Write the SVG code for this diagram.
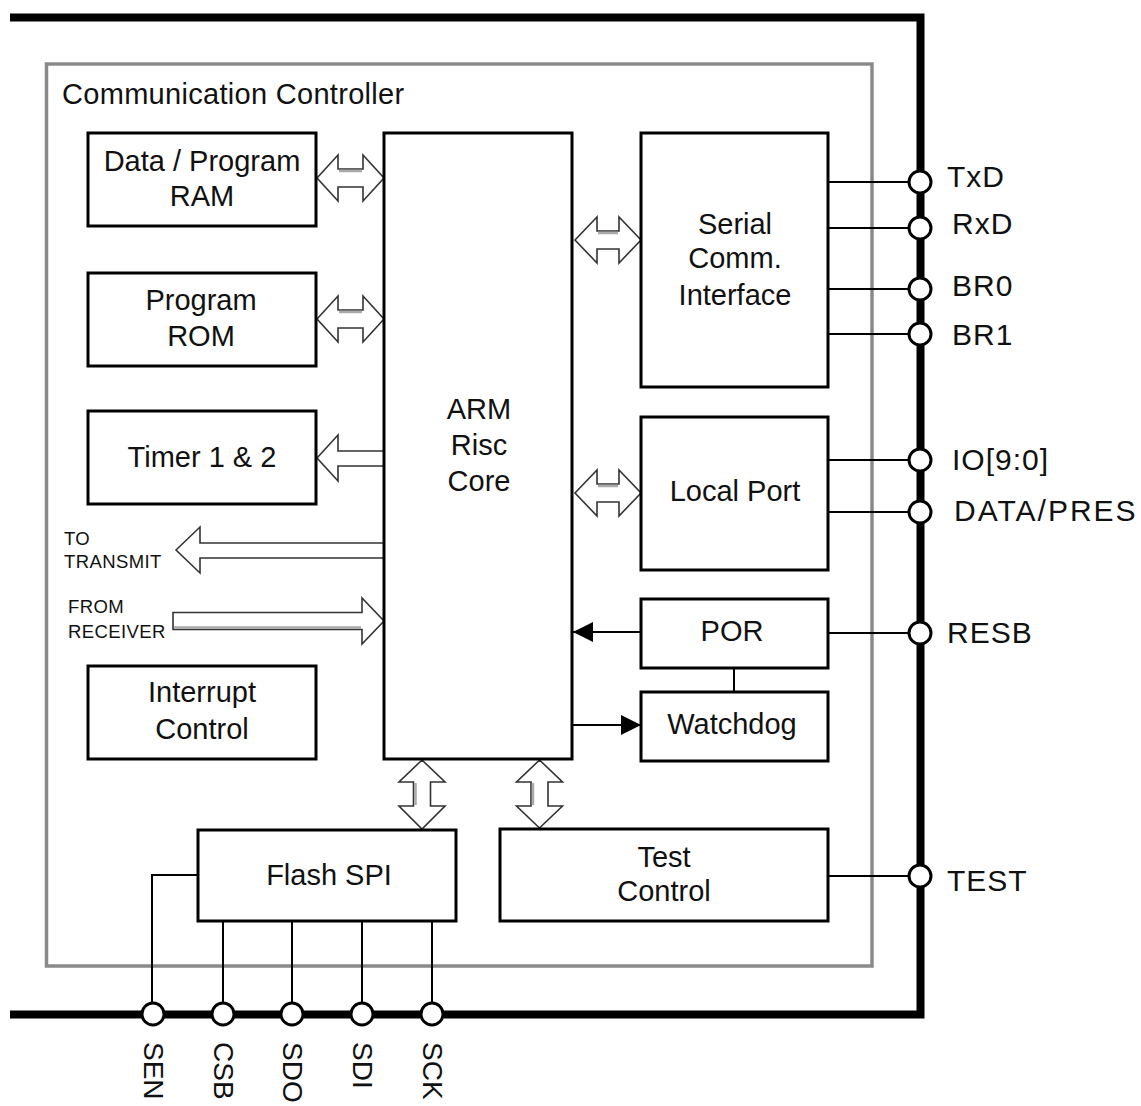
<svg xmlns="http://www.w3.org/2000/svg" width="1141" height="1106" viewBox="0 0 1141 1106">
<style>
.box{fill:#fff;stroke:#000;stroke-width:3}
.t{font-family:"Liberation Sans",Arial,sans-serif;font-size:29px;fill:#111;text-anchor:middle}
.pin{font-family:"Liberation Sans",Arial,sans-serif;font-size:30px;fill:#111;letter-spacing:1px}
.vpin{font-family:"Liberation Sans",Arial,sans-serif;font-size:28px;fill:#111}
.sm{font-family:"Liberation Sans",Arial,sans-serif;font-size:18.5px;fill:#111;letter-spacing:0.4px}
.w{fill:none;stroke:#000;stroke-width:2}
.ha{fill:#fff;stroke:#333;stroke-width:1.6;stroke-linejoin:miter}
.sh{stroke:#aaa;stroke-width:2.5;fill:none}
.pc{fill:#fff;stroke:#000;stroke-width:3}
</style>
<defs>
<marker id="ah" markerUnits="userSpaceOnUse" viewBox="0 0 20 20" refX="20" refY="10" markerWidth="20" markerHeight="20" orient="auto">
<path d="M0,0 L20,10 L0,20 z" fill="#000"/>
</marker>
</defs>
<rect width="1141" height="1106" fill="#fff"/>
<g id="frame">
<path d="M10,17.5 H920.5 V1014.5 H10" fill="none" stroke="#000" stroke-width="8"/>
</g>
<g id="controller">
<rect x="46.5" y="64" width="825.5" height="902" fill="none" stroke="#8a8a8a" stroke-width="3.5"/>
<text x="62" y="104" class="t" style="text-anchor:start;letter-spacing:0.3px">Communication Controller</text>
</g>
<g id="connectors">
<polygon class="ha" points="317,178 338,155 338,169 363,169 363,155 384,178 363,201 363,187 338,187 338,201"/>
<line class="sh" x1="339" y1="171" x2="362" y2="171"/>
<polygon class="ha" points="317,319 338,296 338,310 363,310 363,296 384,319 363,342 363,328 338,328 338,342"/>
<line class="sh" x1="339" y1="312" x2="362" y2="312"/>
<polygon class="ha" points="575,240 597,217 597,231 619,231 619,217 641,240 619,263 619,249 597,249 597,263"/>
<line class="sh" x1="598" y1="233" x2="618" y2="233"/>
<polygon class="ha" points="575,493 597,470 597,484 619,484 619,470 641,493 619,516 619,502 597,502 597,516"/>
<line class="sh" x1="598" y1="486" x2="618" y2="486"/>
<polygon class="ha" points="317,458 338,435 338,451 384,451 384,466 338,466 338,481"/>
<polygon class="ha" points="176,550 200,527 200,543 384,543 384,558 200,558 200,573"/>
<polygon class="ha" points="173,612.5 362,612.5 362,598 384,621 362,644 362,629.5 173,629.5"/>
<line class="sh" x1="174" y1="627.5" x2="361" y2="627.5"/>
<polygon class="ha" points="422,760 445,782 430.5,782 430.5,806 445,806 422,829 399,806 413.5,806 413.5,782 399,782"/>
<line class="sh" x1="415.5" y1="783" x2="415.5" y2="805"/>
<polygon class="ha" points="539.5,760 562.5,782 548,782 548,806 562.5,806 539.5,828 516.5,806 531,806 531,782 516.5,782"/>
<line class="sh" x1="533" y1="783" x2="533" y2="805"/>
<line x1="641" y1="632" x2="573" y2="632" stroke="#000" stroke-width="2" marker-end="url(#ah)"/>
<line x1="572" y1="725" x2="641" y2="725" stroke="#000" stroke-width="2" marker-end="url(#ah)"/>
<line class="w" x1="734" y1="668" x2="734" y2="692"/>
<line class="w" x1="828" y1="182" x2="920" y2="182"/>
<line class="w" x1="828" y1="228" x2="920" y2="228"/>
<line class="w" x1="828" y1="289" x2="920" y2="289"/>
<line class="w" x1="828" y1="334" x2="920" y2="334"/>
<line class="w" x1="828" y1="460" x2="920" y2="460"/>
<line class="w" x1="828" y1="512" x2="920" y2="512"/>
<line class="w" x1="828" y1="633" x2="920" y2="633"/>
<line class="w" x1="828" y1="876" x2="920" y2="876"/>
<polyline class="w" points="198,875 152,875 152,1014"/>
<line class="w" x1="223" y1="921" x2="223" y2="1014"/>
<line class="w" x1="292" y1="921" x2="292" y2="1014"/>
<line class="w" x1="362" y1="921" x2="362" y2="1014"/>
<line class="w" x1="432" y1="921" x2="432" y2="1014"/>
</g>
<g id="ram"><rect class="box" x="88" y="133" width="228" height="93"/>
<text class="t" x="202" y="171">Data / Program</text><text class="t" x="202" y="206">RAM</text></g>
<g id="rom"><rect class="box" x="88" y="273" width="228" height="93"/>
<text class="t" x="201" y="310">Program</text><text class="t" x="201" y="346">ROM</text></g>
<g id="timer"><rect class="box" x="88" y="411" width="228" height="93"/>
<text class="t" x="202" y="467">Timer 1 &amp; 2</text></g>
<g id="interrupt"><rect class="box" x="88" y="666" width="228" height="93"/>
<text class="t" x="202" y="702">Interrupt</text><text class="t" x="202" y="739">Control</text></g>
<g id="arm"><rect class="box" x="384" y="133" width="188" height="626"/>
<text class="t" x="479" y="419">ARM</text><text class="t" x="479" y="455">Risc</text><text class="t" x="479" y="491">Core</text></g>
<g id="serial"><rect class="box" x="641" y="133" width="187" height="254"/>
<text class="t" x="735" y="234">Serial</text><text class="t" x="735" y="268">Comm.</text><text class="t" x="735" y="305">Interface</text></g>
<g id="localport"><rect class="box" x="641" y="417" width="187" height="153"/>
<text class="t" x="735" y="501">Local Port</text></g>
<g id="por"><rect class="box" x="641" y="599" width="187" height="69"/>
<text class="t" x="732" y="641">POR</text></g>
<g id="watchdog"><rect class="box" x="641" y="692" width="187" height="69"/>
<text class="t" x="732" y="734">Watchdog</text></g>
<g id="flashspi"><rect class="box" x="198" y="830" width="258" height="91"/>
<text class="t" x="329" y="885">Flash SPI</text></g>
<g id="testcontrol"><rect class="box" x="500" y="829" width="328" height="92"/>
<text class="t" x="664" y="867">Test</text><text class="t" x="664" y="901">Control</text></g>
<g id="labels">
<text class="sm" x="64" y="545">TO</text>
<text class="sm" x="64" y="568">TRANSMIT</text>
<text class="sm" x="68" y="613">FROM</text>
<text class="sm" x="68" y="638">RECEIVER</text>
</g>
<g id="pins">
<circle class="pc" cx="920" cy="182" r="11"/>
<circle class="pc" cx="920" cy="228" r="11"/>
<circle class="pc" cx="920" cy="289" r="11"/>
<circle class="pc" cx="920" cy="334" r="11"/>
<circle class="pc" cx="920" cy="460" r="11"/>
<circle class="pc" cx="920" cy="512" r="11"/>
<circle class="pc" cx="920" cy="633" r="11"/>
<circle class="pc" cx="920" cy="876" r="11"/>
<circle class="pc" cx="153" cy="1014" r="11"/>
<circle class="pc" cx="223" cy="1014" r="11"/>
<circle class="pc" cx="292" cy="1014" r="11"/>
<circle class="pc" cx="362" cy="1014" r="11"/>
<circle class="pc" cx="432" cy="1014" r="11"/>
<text class="pin" x="947" y="187">TxD</text>
<text class="pin" x="952" y="234">RxD</text>
<text class="pin" x="952" y="296">BR0</text>
<text class="pin" x="952" y="345">BR1</text>
<text class="pin" x="952" y="470">IO[9:0]</text>
<text class="pin" x="954" y="521" style="letter-spacing:2px">DATA/PRES</text>
<text class="pin" x="947" y="643">RESB</text>
<text class="pin" x="947" y="891">TEST</text>
<text class="vpin" transform="translate(144,1042) rotate(90)">SEN</text>
<text class="vpin" transform="translate(214,1042) rotate(90)">CSB</text>
<text class="vpin" transform="translate(283,1042) rotate(90)">SDO</text>
<text class="vpin" transform="translate(353,1042) rotate(90)">SDI</text>
<text class="vpin" transform="translate(423,1042) rotate(90)">SCK</text>
</g>
</svg>
